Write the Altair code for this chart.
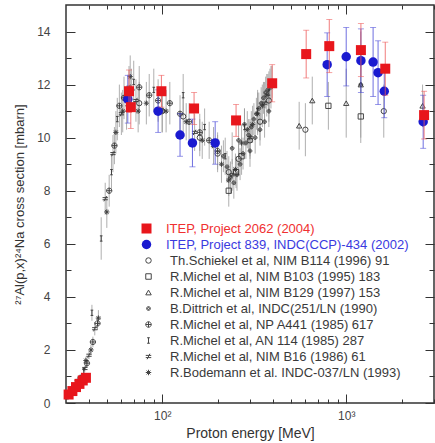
import altair as alt
import pandas as pd

RED = "#e8161c"
BLUE = "#1a1ad0"
GRAY = "#333333"
BAR = "#9a9a9a"

# ---- ITEP, Project 2062 (2004) : red squares
itep04_E = [31, 32.5, 34, 35.5, 37, 38.5, 66, 67.5, 99, 149, 252, 396, 606, 809, 1202, 1630, 2650]
itep04_v = [0.32, 0.45, 0.6, 0.72, 0.85, 0.95, 11.75, 11.15, 11.75, 11.1, 10.65, 12.05, 13.15, 13.45, 13.3, 12.6, 10.85]
itep04_err = [0.05, 0.06, 0.07, 0.08, 0.09, 0.1, 0.8, 0.8, 0.6, 0.6, 0.6, 0.7, 0.9, 1.0, 1.0, 1.0, 0.9]

# ---- ITEP, Project 839 (2002) : blue circles
itep02_E = [65, 95, 125, 146, 194, 788, 1000, 1202, 1400, 1490, 1610, 2620]
itep02_v = [11.45, 11.0, 10.1, 9.8, 9.8, 12.75, 13.05, 12.9, 12.85, 12.45, 11.75, 10.6]
itep02_err = [0.9, 0.8, 0.8, 0.9, 0.8, 1.2, 1.1, 1.2, 1.3, 1.2, 1.0, 1.0]

# ---- other experiments (grey)
schiekel_E = [75, 100, 130, 160, 200, 230, 260, 300, 340, 380, 600, 1600]
schiekel_v = [11.3, 11.0, 10.8, 10.0, 9.4, 8.7, 9.2, 9.9, 10.6, 11.4, 10.3, 11.0]
schiekel_err = [0.8, 0.8, 0.7, 0.7, 0.7, 0.6, 0.6, 0.7, 0.7, 0.8, 1.0, 1.0]

michel95_E = [230, 252, 270, 800, 1200]
michel95_v = [8.0, 8.7, 9.3, 11.2, 10.8]
michel95_err = [0.6, 0.6, 0.7, 0.9, 1.0]

michel97_E = [555, 654, 1000, 1200, 2600]
michel97_v = [10.45, 11.4, 11.3, 12.0, 11.2]
michel97_err = [0.9, 0.9, 1.3, 2.0, 0.8]

dittrich_E = [215, 225, 235, 245, 255, 265, 275, 285, 295, 305, 315, 325, 335, 345,
              355, 365, 375, 385, 395, 240, 260, 280, 300, 320, 340, 360, 380, 1200]
dittrich_v = [9.3, 8.9, 8.5, 8.3, 8.6, 9.0, 9.4, 9.8, 10.1, 10.4, 10.7, 10.9, 11.1, 11.3,
              11.5, 11.7, 11.8, 12.0, 12.1, 9.6, 9.9, 10.5, 9.5, 10.0, 10.3, 10.6, 11.0, 12.0]
dittrich_err = [0.6] * 27 + [1.3]

michel85_E = [33, 36, 39, 42, 44.5, 51.5, 55, 58.5, 62, 68, 75, 85, 95, 110, 125, 140, 160, 180, 200]
michel85_v = [0.55, 0.95, 1.5, 2.3, 3.0, 8.0, 9.7, 11.2, 11.5, 11.8, 11.9, 11.6, 11.4, 11.3, 10.9, 10.6, 10.2, 9.9, 9.5]
michel85_err = [0.06, 0.1, 0.15, 0.2, 0.25, 0.6, 0.7, 0.8, 0.8, 0.8, 0.8, 0.8, 0.8, 0.8, 0.7, 0.7, 0.7, 0.7, 0.7]

michelAN_E = [30.5, 34, 37.5, 41.5, 46.6, 53, 57, 64, 70, 90, 130, 170, 220, 280, 330, 380]
michelAN_v = [0.25, 0.75, 1.2, 3.4, 6.2, 8.7, 10.7, 11.1, 12.1, 11.8, 11.6, 10.4, 9.3, 10.4, 11.0, 11.7]
michelAN_err = [0.05, 0.08, 0.12, 0.3, 0.8, 0.7, 0.8, 0.8, 0.8, 0.8, 0.8, 0.7, 0.7, 0.7, 0.8, 0.8]

michel86_E = [32, 35, 38, 40, 43, 49, 54, 60, 66, 72, 100, 150, 190, 240, 300, 360]
michel86_v = [0.4, 0.85, 1.3, 1.8, 2.8, 7.7, 9.4, 10.9, 11.9, 11.4, 11.0, 10.2, 9.7, 8.6, 10.0, 11.3]
michel86_err = [0.05, 0.08, 0.12, 0.15, 0.25, 0.6, 0.7, 0.8, 0.8, 0.8, 0.8, 0.7, 0.7, 0.6, 0.7, 0.8]

bodemann_E = [38.5, 41, 45, 50, 56, 61, 67, 74, 82, 105, 135, 165, 210, 230, 250, 270, 290, 310, 330, 350, 370, 390]
bodemann_v = [1.6, 2.0, 3.2, 7.2, 10.2, 11.0, 12.3, 11.0, 11.3, 11.0, 10.6, 9.9, 9.0, 8.4, 8.8, 9.8, 10.3, 10.5, 10.9, 11.2, 11.6, 11.9]
bodemann_err = [0.15, 0.2, 0.3, 0.6, 0.8, 0.8, 0.8, 0.8, 0.8, 0.8, 0.7, 0.7, 0.7, 0.6, 0.6, 0.7, 0.7, 0.7, 0.8, 0.8, 0.8, 0.8]

lab_red = "ITEP, Project 2062 (2004)"
lab_blue = "ITEP, Project 839, INDC(CCP)-434 (2002)"
gray_labels = [
    "Th.Schiekel et al, NIM B114 (1996) 91",
    "R.Michel et al, NIM B103 (1995) 183",
    "R.Michel et al, NIM B129 (1997) 153",
    " B.Dittrich et al, INDC(251/LN (1990)",
    "R.Michel et al, NP A441 (1985) 617",
    "R.Michel et al, AN 114 (1985) 287",
    "R.Michel et al, NIM B16 (1986) 61",
    "R.Bodemann et al. INDC-037/LN (1993)",
]
gray_shapes = [
    "circle",
    "square",
    "triangle-up",
    "M-0.7,0A0.7,0.7,0,1,1,0.7,0A0.7,0.7,0,1,1,-0.7,0M-0.35,0A0.35,0.35,0,1,1,0.35,0A0.35,0.35,0,1,1,-0.35,0",
    "M-1,0A1,1,0,1,1,1,0A1,1,0,1,1,-1,0M-1,0L1,0M0,-1L0,1",
    "M-0.5,-1L0.5,-1M0,-1L0,1M-0.5,1L0.5,1",
    "M-1,-0.4L1,-0.4M-1,0.4L1,0.4M0.5,-1L-0.5,1",
    "M-1,0L1,0M0,-1L0,1M-0.7,-0.7L0.7,0.7M-0.7,0.7L0.7,-0.7",
]
gray_sets = [
    (schiekel_E, schiekel_v, schiekel_err),
    (michel95_E, michel95_v, michel95_err),
    (michel97_E, michel97_v, michel97_err),
    (dittrich_E, dittrich_v, dittrich_err),
    (michel85_E, michel85_v, michel85_err),
    (michelAN_E, michelAN_v, michelAN_err),
    (michel86_E, michel86_v, michel86_err),
    (bodemann_E, bodemann_v, bodemann_err),
]

x_major = [100, 1000]
x_minor = [40, 50, 60, 70, 80, 90, 200, 300, 400, 500, 600, 700, 800, 900, 2000, 3000]
y_major = [0, 2, 4, 6, 8, 10, 12, 14]
y_minor = [1, 3, 5, 7, 9, 11, 13]

df_red = pd.DataFrame({"series": lab_red, "E": itep04_E, "v": itep04_v, "err": itep04_err})
df_blue = pd.DataFrame({"series": lab_blue, "E": itep02_E, "v": itep02_v, "err": itep02_err})
rows = []
for lab, (E, v, e) in zip(gray_labels, gray_sets):
    for a, b, c in zip(E, v, e):
        rows.append({"series": lab, "E": a, "v": b, "err": c})
df_gray = pd.DataFrame(rows)

xscale = alt.Scale(type="log", domain=[30, 3000], nice=False)
yscale = alt.Scale(domain=[0, 15], nice=False)
FONT = "Liberation Sans"
LFS = 13


def err_layers(df, color, cap):
    base = alt.Chart(df).transform_calculate(lo="datum.v - datum.err", hi="datum.v + datum.err")
    rule = base.mark_rule(color=color, strokeWidth=0.8).encode(
        x=alt.X("E:Q", scale=xscale, axis=None),
        y=alt.Y("lo:Q", scale=yscale, axis=None),
        y2="hi:Q",
    )
    layers = [rule]
    if cap:
        for f in ["lo", "hi"]:
            layers.append(base.mark_tick(color=color, orient="horizontal", size=6, thickness=0.8).encode(
                x=alt.X("E:Q", scale=xscale, axis=None),
                y=alt.Y(f + ":Q", scale=yscale, axis=None),
            ))
    return layers


gray_err = err_layers(df_gray, BAR, False)
gray_pts = alt.Chart(df_gray).mark_point(filled=False, size=28, strokeWidth=1, color=GRAY, opacity=0.9).encode(
    x=alt.X("E:Q", scale=xscale, axis=None),
    y=alt.Y("v:Q", scale=yscale, axis=None),
    shape=alt.Shape("series:N", scale=alt.Scale(domain=gray_labels, range=gray_shapes),
                    legend=alt.Legend(orient="none", legendX=76, legendY=249, title=None, padding=0,
                                      symbolSize=30, symbolStrokeColor=GRAY, symbolStrokeWidth=1,
                                      labelFont=FONT, labelFontSize=LFS, labelColor="#3a3a3a",
                                      labelOffset=15, labelLimit=400, rowPadding=2)),
)

blue_err = err_layers(df_blue, "#4a4ad8", True)
blue_pts = alt.Chart(df_blue).mark_circle(size=90, opacity=1).encode(
    x=alt.X("E:Q", scale=xscale, axis=None),
    y=alt.Y("v:Q", scale=yscale, axis=None),
    fill=alt.Fill("series:N", scale=alt.Scale(domain=[lab_blue], range=[BLUE]),
                  legend=alt.Legend(orient="none", legendX=74, legendY=233, title=None, padding=0,
                                    symbolType="circle", symbolSize=90, symbolOpacity=1,
                                    labelFont=FONT, labelFontSize=LFS, labelColor="#3a3ae0",
                                    labelOffset=13, labelLimit=400)),
)

red_err = err_layers(df_red, "#ee5a5a", True)
red_pts = alt.Chart(df_red).mark_square(size=100, opacity=1).encode(
    x=alt.X("E:Q", scale=xscale, axis=None),
    y=alt.Y("v:Q", scale=yscale, axis=None),
    color=alt.Color("series:N", scale=alt.Scale(domain=[lab_red], range=[RED]),
                    legend=alt.Legend(orient="none", legendX=74, legendY=217, title=None, padding=0,
                                      symbolType="square", symbolSize=100, symbolOpacity=1,
                                      labelFont=FONT, labelFontSize=LFS, labelColor="#f03030",
                                      labelOffset=13, labelLimit=400)),
)

dummy = pd.DataFrame({"E": [100], "v": [5]})


def axis_layer(xaxis, yaxis):
    return alt.Chart(dummy).mark_point(opacity=0).encode(
        x=alt.X("E:Q", scale=xscale, axis=xaxis),
        y=alt.Y("v:Q", scale=yscale, axis=yaxis),
    )


common = dict(grid=False, domain=False, tickColor="#333333", tickWidth=1,
              labelFont=FONT, labelColor="#444444", titleFont=FONT, titleColor="#333333",
              titleFontWeight="normal")

ax_main = axis_layer(
    alt.Axis(orient="bottom", values=x_major, tickSize=alt.ExprRef(expr="-9"), labelPadding=16,
             labelExpr="datum.value == 100 ? '10²' : '10³'", labelFontSize=12,
             title="Proton energy [MeV]", titleFontSize=14, titlePadding=5, **common),
    alt.Axis(orient="left", values=y_major, tickSize=alt.ExprRef(expr="-9"), labelPadding=25,
             format="d", labelFontSize=12,
             title="²⁷Al(p,x)²⁴Na cross section [mbarn]", titleFontSize=13, titlePadding=10, **common),
)
ax_minor = axis_layer(
    alt.Axis(orient="bottom", values=x_minor, tickSize=alt.ExprRef(expr="-4"), labels=False, title=None, **common),
    alt.Axis(orient="left", values=y_minor, tickSize=alt.ExprRef(expr="-5"), labels=False, title=None, **common),
)
ax_top = axis_layer(
    alt.Axis(orient="top", values=x_major, tickSize=alt.ExprRef(expr="-9"), labels=False, title=None, **common),
    alt.Axis(orient="right", values=y_major, tickSize=alt.ExprRef(expr="-9"), labels=False, title=None, **common),
)
ax_top_minor = axis_layer(
    alt.Axis(orient="top", values=x_minor, tickSize=alt.ExprRef(expr="-4"), labels=False, title=None, **common),
    alt.Axis(orient="right", values=y_minor, tickSize=alt.ExprRef(expr="-5"), labels=False, title=None, **common),
)

chart = alt.layer(
    ax_main, ax_minor, ax_top, ax_top_minor,
    *gray_err, gray_pts, *blue_err, blue_pts, *red_err, red_pts,
).resolve_axis(x="independent", y="independent").properties(
    width=368, height=398,
    padding={"left": 66, "top": 5, "right": 1, "bottom": 40},
    autosize=alt.AutoSizeParams(type="none"),
).configure_view(stroke="#333333", strokeWidth=1.5)

chart.save("out.html", embed_options={"renderer": "svg", "actions": False})
